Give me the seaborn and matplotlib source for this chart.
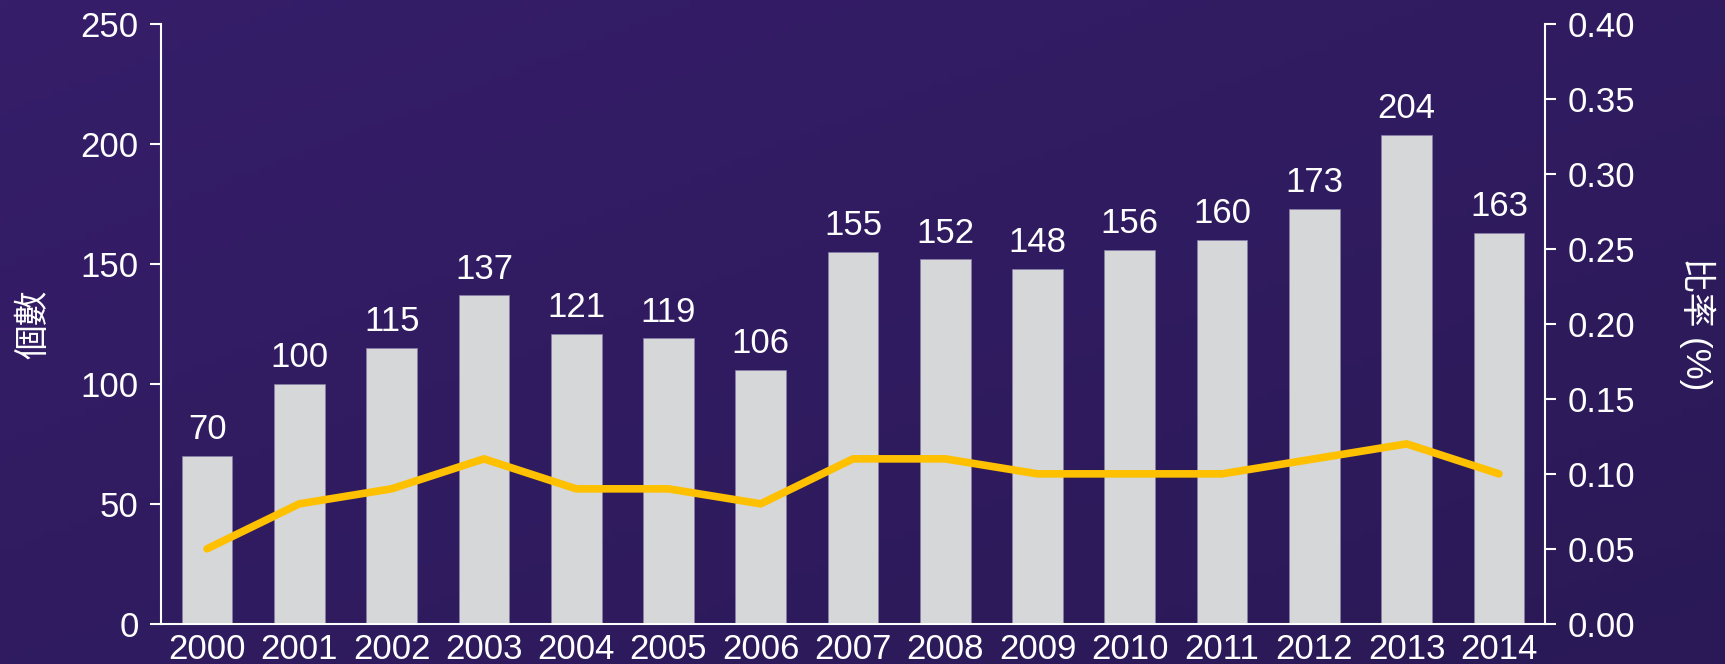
import numpy as np
import matplotlib
matplotlib.use("Agg")
import matplotlib.pyplot as plt
import seaborn as sns

# --- data ---
years = ["2000", "2001", "2002", "2003", "2004", "2005", "2006", "2007",
         "2008", "2009", "2010", "2011", "2012", "2013", "2014"]
counts = [70, 100, 115, 137, 121, 119, 106, 155, 152, 148, 156, 160, 173, 204, 163]
ratios = [0.05, 0.08, 0.09, 0.11, 0.09, 0.09, 0.08, 0.11, 0.11, 0.10, 0.10, 0.10, 0.11, 0.12, 0.10]
left_label = "個數"
right_label = "比率 (%)"

BAR_COLOR = "#D5D7D9"
LINE_COLOR = "#FFC000"
TEXT = "white"
FS = 25

sns.set_theme(style="ticks")
plt.rcParams['font.family'] = ['Liberation Sans', 'Noto Sans CJK TC', 'DejaVu Sans']

fig = plt.figure(figsize=(17.25, 6.64), dpi=100)

# background gradient (top-left lighter purple -> bottom-right darker)
bg = fig.add_axes([0, 0, 1, 1], zorder=-10)
gx, gy = np.meshgrid(np.linspace(0, 1, 200), np.linspace(0, 1, 80))
t = (gx + gy) / 2
c0 = np.array([0x36, 0x1E, 0x6A]) / 255
c1 = np.array([0x2A, 0x19, 0x56]) / 255
img = c0[None, None, :] * (1 - t[..., None]) + c1[None, None, :] * t[..., None]
bg.imshow(img, aspect="auto", extent=[0, 1, 0, 1])
bg.axis("off")

ax = fig.add_axes([0.0933, 0.0607, 0.8024, 0.9027])
ax.patch.set_alpha(0)

sns.barplot(x=years, y=counts, color=BAR_COLOR, width=0.55, saturation=1,
            edgecolor="#8a80a8", linewidth=0.5, ax=ax)
for i, v in enumerate(counts):
    ax.text(i, v + 4, str(v), ha="center", va="bottom", fontsize=FS, color=TEXT)

ax.set_xlim(-0.5, len(years) - 0.5)
ax.set_ylim(0, 250)
ax.set_yticks(np.arange(0, 251, 50))
ax.set_xlabel("")
ax.set_ylabel(left_label, fontsize=FS, color=TEXT, labelpad=22)
ax.tick_params(axis="y", colors=TEXT, labelsize=FS, length=8, width=1.5, direction="out", pad=8)
ax.tick_params(axis="x", colors=TEXT, labelsize=FS, length=0, pad=7)
for s in ["top", "right"]:
    ax.spines[s].set_visible(False)
for s in ["left", "bottom"]:
    ax.spines[s].set_color(TEXT)
    ax.spines[s].set_linewidth(1.5)

ax2 = ax.twinx()
sns.lineplot(x=np.arange(len(years)), y=ratios, color=LINE_COLOR, linewidth=5.5,
             solid_capstyle="round", solid_joinstyle="round", ax=ax2)
ax2.set_ylim(0, 0.40)
ax2.set_yticks(np.arange(0, 0.401, 0.05))
ax2.set_yticklabels([f"{v:.2f}" for v in np.arange(0, 0.401, 0.05)])
ax2.set_ylabel(right_label, fontsize=FS, color=TEXT, rotation=-90, labelpad=58)
ax2.tick_params(axis="y", colors=TEXT, labelsize=FS, length=8, width=1.5, direction="out", pad=8)
for s in ["top", "left", "bottom"]:
    ax2.spines[s].set_visible(False)
ax2.spines["right"].set_color(TEXT)
ax2.spines["right"].set_linewidth(1.5)
ax2.set_xlim(-0.5, len(years) - 0.5)

fig.savefig("out.png", dpi=100)
